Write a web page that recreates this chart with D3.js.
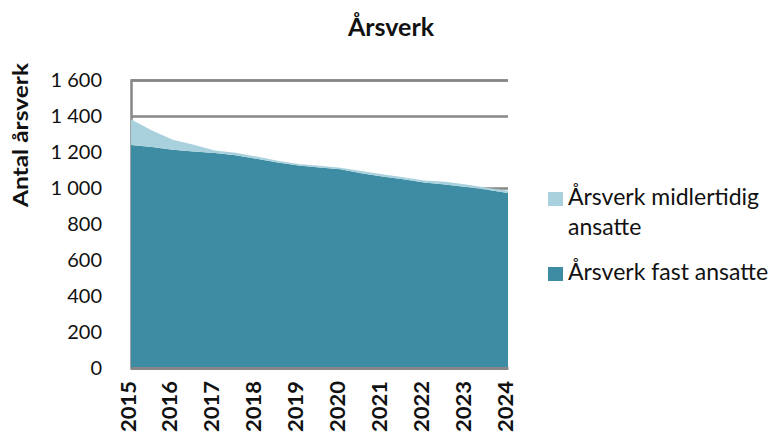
<!DOCTYPE html>
<html>
<head>
<meta charset="utf-8">
<script src="https://cdn.jsdelivr.net/npm/d3@7"></script>
<style>
  body { margin: 0; background: #fff; }
  text { font-family: Lato, "Open Sans", sans-serif; fill: #111; }
</style>
</head>
<body>
<div id="chart"></div>
<script>
// år på x-aksen
const years = [2015, 2016, 2017, 2018, 2019, 2020, 2021, 2022, 2023, 2024];
// målepunkter (halvår)
const periods = [2015, 2015.5, 2016, 2016.5, 2017, 2017.5, 2018, 2018.5, 2019, 2019.5,
  2020, 2020.5, 2021, 2021.5, 2022, 2022.5, 2023, 2023.5, 2024];
const fast = [1239, 1228, 1213, 1203, 1195, 1182, 1162, 1142, 1125, 1114,
  1104, 1082, 1064, 1048, 1030, 1020, 1005, 990, 972];
const midlertidig = [143, 92, 55, 37, 13, 14, 13, 10, 9, 10,
  9, 12, 13, 12, 12, 15, 15, 12, 13];
const yTicks = [0, 200, 400, 600, 800, 1000, 1200, 1400, 1600];
// synlige rutenettlinjer i originalen
const gridTicks = [1000, 1400, 1600];

let width = 781;
let height = 435;

let margin = ({
  top: 80,
  right: 273,
  bottom: 67,
  left: 131
});

let color = {
  fast: '#3e8ca3',
  midl: '#a9d1dd',
  grid: '#878787'
};

const table = periods.map((p, i) => ({ periode: p, fast: fast[i], midl: midlertidig[i] }));

const x = d3.scaleLinear()
  .domain([years[0], years[years.length - 1]])
  .range([margin.left, width - margin.right]);

const y = d3.scaleLinear()
  .domain([0, 1600])
  .range([height - margin.bottom, margin.top]);

const nb = d3.formatLocale({ decimal: ",", thousands: " ", grouping: [3], currency: ["", ""] });

const svg = d3.select("#chart").append("svg")
  .attr('width', width)
  .attr('height', height);

svg.append('rect').attr('width', width).attr('height', height).attr('fill', '#fff');

// rutenett
svg.append("g")
  .attr("transform", `translate(${margin.left},0)`)
  .call(d3.axisLeft(y).tickValues(gridTicks).tickSize(-(width - margin.left - margin.right)).tickFormat(""))
  .call(g => g.selectAll(".tick line").attr("stroke", color.grid).attr("stroke-width", 2.5))
  .call(g => g.select(".domain").attr("stroke", color.grid).attr("stroke-width", 2.5));

// stablet areal
const stack = d3.stack().keys(['fast', 'midl']);
const layers = stack(table);

const area = d3.area()
  .x(d => x(d.data.periode))
  .y0(d => y(d[0]))
  .y1(d => y(d[1]));

svg.append("g")
  .selectAll("path")
  .data(layers)
  .enter().append("path")
  .attr("fill", d => color[d.key])
  .attr("d", area);

// x-akse
svg.append("g")
  .attr("transform", `translate(0,${height - margin.bottom})`)
  .call(d3.axisBottom(x).tickValues(years).tickFormat(d3.format("d")).tickSize(0))
  .call(g => g.select(".domain").attr("stroke", color.grid).attr("stroke-width", 3))
  .selectAll("text")
  .attr("font-family", "Liberation Sans, Arial, sans-serif")
  .attr("font-weight", "bold")
  .attr("font-size", 20)
  .attr("textLength", 51)
  .attr("lengthAdjust", "spacingAndGlyphs")
  .attr("fill", "#111")
  .attr("text-anchor", "end")
  .attr("dy", null)
  .attr("y", 0)
  .attr("transform", "translate(4,13) rotate(-90)");

// y-akse
svg.append("g")
  .attr("transform", `translate(${margin.left - 29},0)`)
  .call(d3.axisLeft(y).tickValues(yTicks).tickFormat(nb.format(",d")).tickSize(0).tickPadding(0))
  .call(g => g.select(".domain").remove())
  .selectAll("text")
  .attr("font-size", 20)
  .attr("fill", "#111");

// tittel
svg.append("text")
  .attr("x", 391)
  .attr("y", 36)
  .attr("text-anchor", "middle")
  .attr("font-size", 25)
  .attr("font-weight", "bold")
  .text("Årsverk");

// y-tittel
svg.append("text")
  .attr("transform", "translate(28,135) rotate(-90)")
  .attr("text-anchor", "middle")
  .attr("font-family", "Liberation Sans, Arial, sans-serif")
  .attr("font-size", 21)
  .attr("font-weight", "bold")
  .attr("textLength", 144)
  .attr("lengthAdjust", "spacingAndGlyphs")
  .text("Antal årsverk");

// tegnforklaring
const legend = svg.append("g").attr("transform", "translate(548,0)");
const legendItems = [
  { key: 'midl', lines: ["Årsverk midlertidig", "ansatte"], top: 192 },
  { key: 'fast', lines: ["Årsverk fast ansatte"], top: 267 }
];
legendItems.forEach(item => {
  legend.append("rect")
    .attr("x", 0)
    .attr("y", item.top)
    .attr("width", 15)
    .attr("height", 14)
    .attr("fill", color[item.key]);
  item.lines.forEach((line, i) => {
    legend.append("text")
      .attr("x", 20)
      .attr("y", item.top + 13 + i * 30)
      .attr("font-size", 23)
      .text(line);
  });
});
</script>
</body>
</html>
